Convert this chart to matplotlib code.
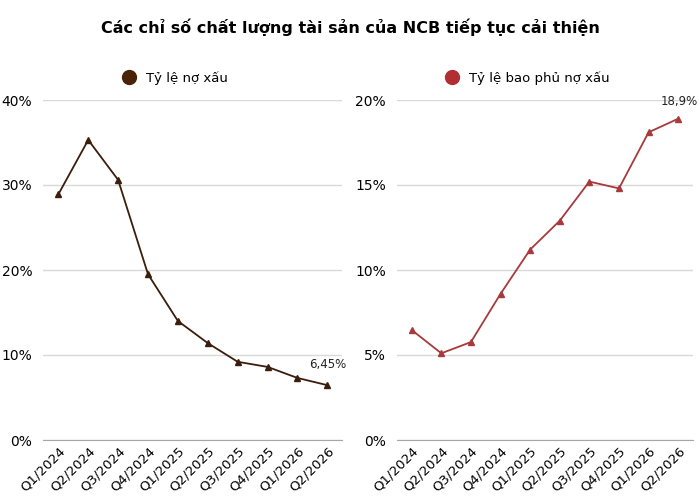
import matplotlib.pyplot as plt
from matplotlib.lines import Line2D
from matplotlib.ticker import FuncFormatter

plt.rcParams['font.family'] = ['DejaVu Sans']

quarters = ['Q1/2024', 'Q2/2024', 'Q3/2024', 'Q4/2024', 'Q1/2025',
            'Q2/2025', 'Q3/2025', 'Q4/2025', 'Q1/2026', 'Q2/2026']
npl = [28.9, 35.3, 30.6, 19.5, 14.0, 11.4, 9.2, 8.6, 7.3, 6.45]
coverage = [6.47, 5.1, 5.76, 8.6, 11.2, 12.9, 15.2, 14.8, 18.1, 18.9]

fig = plt.figure(figsize=(7, 5), dpi=100)
fig.text(0.5, 0.945, 'Các chỉ số chất lượng tài sản của NCB tiếp tục cải thiện',
         ha='center', va='center', fontsize=11.5, fontweight='bold')

ax1 = fig.add_axes([0.062, 0.12, 0.427, 0.68])
ax2 = fig.add_axes([0.567, 0.12, 0.423, 0.68])

panels = [
    (ax1, npl, '#3b1d0c', '#4a2208', 'Tỷ lệ nợ xấu', [0, 10, 20, 30, 40], 40, '6,45%', (0, 10)),
    (ax2, coverage, '#a8393c', '#b02f33', 'Tỷ lệ bao phủ nợ xấu', [0, 5, 10, 15, 20], 20, '18,9%', (1, 8)),
]

for ax, vals, lc, mc, name, ticks, top, last_lbl, off in panels:
    x = range(len(quarters))
    ax.plot(x, vals, color=lc, lw=1.3, marker='^', ms=4, mfc=lc, mec=lc)
    ax.set_xlim(-0.5, 9.5)
    ax.set_ylim(0, top)
    ax.set_yticks(ticks)
    ax.yaxis.set_major_formatter(FuncFormatter(lambda v, p: f'{v:.0f}%'))
    ax.set_xticks(list(x))
    ax.set_xticklabels(quarters, rotation=45, ha='right', rotation_mode='anchor', fontsize=9.5)
    ax.tick_params(axis='y', labelsize=10, length=0, pad=8)
    ax.tick_params(axis='x', length=0, pad=3)
    ax.grid(axis='y', color='#d9d9d9', lw=1)
    ax.set_axisbelow(True)
    for s in ['top', 'right', 'left']:
        ax.spines[s].set_visible(False)
    ax.spines['bottom'].set_color('#a6a6a6')
    ax.annotate(last_lbl, (9, vals[-1]), xytext=off, textcoords='offset points',
                ha='center', va='bottom', fontsize=8.5, color='#222222')
    h = Line2D([], [], marker='o', ls='', color=mc, ms=10)
    ax.legend([h], [name], loc='lower center', bbox_to_anchor=(0.43, 1.01),
              frameon=False, fontsize=9.5, handletextpad=0.3)

fig.savefig('out.png', dpi=100)
